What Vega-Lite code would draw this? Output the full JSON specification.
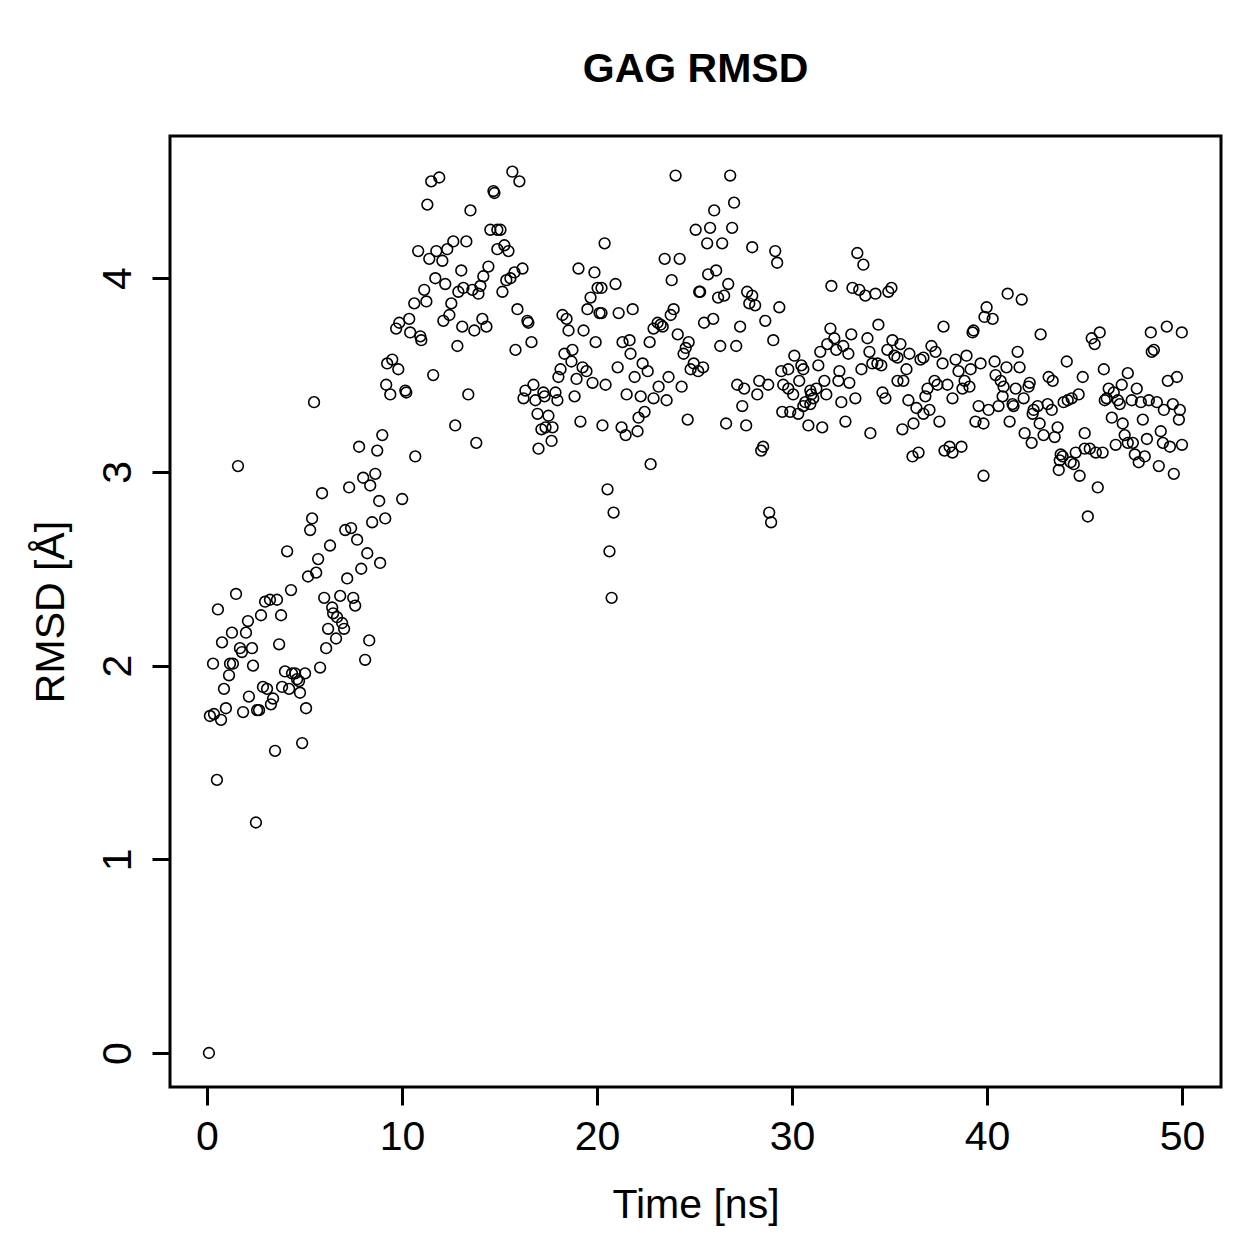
{
"$schema": "https://vega.github.io/schema/vega-lite/v6.json",
"width": 1051,
"height": 951,
"autosize": {"type": "none"},
"padding": {"left": 170, "top": 136, "right": 38, "bottom": 172},
"background": "white",
"title": {"text": "GAG RMSD", "font": "Liberation Sans", "fontSize": 41, "fontWeight": "bold", "color": "black", "anchor": "middle", "frame": "group", "baseline": "alphabetic", "offset": 13},
"config": {
  "view": {"stroke": "black", "strokeWidth": 3},
  "axis": {"domain": false, "grid": false, "tickColor": "black", "tickWidth": 3, "tickSize": 18, "labelFont": "Liberation Sans", "labelFontSize": 41, "labelColor": "black", "titleFont": "Liberation Sans", "titleFontSize": 41, "titleFontWeight": "normal", "titleColor": "black", "labelBaseline": "alphabetic", "titleBaseline": "alphabetic"}
},
"data": {"values": [
{"time":0.10,"rmsd":0.00},{"time":2.51,"rmsd":1.19},{"time":5.90,"rmsd":2.89},{"time":7.29,"rmsd":2.92},{"time":8.01,"rmsd":2.97},{"time":8.63,"rmsd":2.99},{"time":8.37,"rmsd":2.93},{"time":8.83,"rmsd":2.85},{"time":10.01,"rmsd":2.86},{"time":9.14,"rmsd":2.76},
{"time":8.47,"rmsd":2.74},{"time":5.39,"rmsd":2.76},{"time":5.29,"rmsd":2.70},{"time":7.09,"rmsd":2.70},{"time":7.39,"rmsd":2.71},{"time":7.70,"rmsd":2.65},{"time":6.31,"rmsd":2.62},{"time":4.11,"rmsd":2.59},{"time":8.22,"rmsd":2.58},{"time":8.88,"rmsd":2.53},
{"time":5.70,"rmsd":2.55},{"time":7.91,"rmsd":2.50},{"time":5.60,"rmsd":2.48},{"time":5.18,"rmsd":2.46},{"time":7.19,"rmsd":2.45},{"time":1.49,"rmsd":2.37},{"time":4.31,"rmsd":2.39},{"time":6.01,"rmsd":2.35},{"time":6.83,"rmsd":2.36},{"time":7.50,"rmsd":2.35},
{"time":7.60,"rmsd":2.31},{"time":0.56,"rmsd":2.29},{"time":2.98,"rmsd":2.33},{"time":3.23,"rmsd":2.34},{"time":3.59,"rmsd":2.34},{"time":2.77,"rmsd":2.26},{"time":3.80,"rmsd":2.26},{"time":6.42,"rmsd":2.30},{"time":6.47,"rmsd":2.27},{"time":6.67,"rmsd":2.25},
{"time":6.93,"rmsd":2.22},{"time":7.03,"rmsd":2.19},{"time":6.21,"rmsd":2.19},{"time":6.62,"rmsd":2.14},{"time":2.10,"rmsd":2.23},{"time":2.00,"rmsd":2.17},{"time":1.28,"rmsd":2.17},{"time":0.77,"rmsd":2.12},{"time":1.69,"rmsd":2.09},{"time":1.79,"rmsd":2.07},
{"time":2.31,"rmsd":2.09},{"time":3.70,"rmsd":2.11},{"time":6.11,"rmsd":2.09},{"time":8.32,"rmsd":2.13},{"time":8.11,"rmsd":2.03},{"time":0.31,"rmsd":2.01},{"time":1.18,"rmsd":2.01},{"time":1.33,"rmsd":2.01},{"time":2.36,"rmsd":2.00},{"time":1.13,"rmsd":1.95},
{"time":0.87,"rmsd":1.88},{"time":4.00,"rmsd":1.97},{"time":4.36,"rmsd":1.96},{"time":4.52,"rmsd":1.96},{"time":5.03,"rmsd":1.96},{"time":4.62,"rmsd":1.93},{"time":4.72,"rmsd":1.92},{"time":5.80,"rmsd":1.99},{"time":2.87,"rmsd":1.89},{"time":3.08,"rmsd":1.88},
{"time":3.85,"rmsd":1.89},{"time":4.21,"rmsd":1.88},{"time":4.77,"rmsd":1.86},{"time":2.15,"rmsd":1.84},{"time":3.39,"rmsd":1.83},{"time":3.28,"rmsd":1.80},{"time":0.97,"rmsd":1.78},{"time":1.85,"rmsd":1.76},{"time":2.57,"rmsd":1.77},{"time":2.67,"rmsd":1.77},
{"time":5.08,"rmsd":1.78},{"time":0.15,"rmsd":1.74},{"time":0.36,"rmsd":1.75},{"time":0.72,"rmsd":1.72},{"time":3.49,"rmsd":1.56},{"time":4.88,"rmsd":1.60},{"time":0.51,"rmsd":1.41},{"time":10.83,"rmsd":4.14},{"time":10.63,"rmsd":3.87},{"time":10.37,"rmsd":3.79},
{"time":9.86,"rmsd":3.77},{"time":9.70,"rmsd":3.74},{"time":10.42,"rmsd":3.72},{"time":10.94,"rmsd":3.70},{"time":10.99,"rmsd":3.68},{"time":9.50,"rmsd":3.58},{"time":9.24,"rmsd":3.56},{"time":9.81,"rmsd":3.53},{"time":9.19,"rmsd":3.45},{"time":9.40,"rmsd":3.40},
{"time":10.17,"rmsd":3.42},{"time":10.22,"rmsd":3.41},{"time":5.49,"rmsd":3.36},{"time":8.99,"rmsd":3.19},{"time":7.80,"rmsd":3.13},{"time":8.73,"rmsd":3.11},{"time":10.68,"rmsd":3.08},{"time":1.59,"rmsd":3.03},{"time":11.50,"rmsd":4.50},{"time":11.91,"rmsd":4.52},
{"time":15.66,"rmsd":4.55},{"time":16.02,"rmsd":4.50},{"time":11.30,"rmsd":4.38},{"time":13.51,"rmsd":4.35},{"time":14.69,"rmsd":4.45},{"time":14.74,"rmsd":4.44},{"time":14.53,"rmsd":4.25},{"time":14.89,"rmsd":4.25},{"time":15.05,"rmsd":4.25},{"time":12.63,"rmsd":4.19},
{"time":13.30,"rmsd":4.19},{"time":11.76,"rmsd":4.14},{"time":12.32,"rmsd":4.15},{"time":11.40,"rmsd":4.10},{"time":12.07,"rmsd":4.09},{"time":15.25,"rmsd":4.17},{"time":14.89,"rmsd":4.15},{"time":15.46,"rmsd":4.14},{"time":14.43,"rmsd":4.06},{"time":16.18,"rmsd":4.05},
{"time":15.77,"rmsd":4.03},{"time":14.17,"rmsd":4.01},{"time":15.56,"rmsd":4.00},{"time":15.35,"rmsd":3.99},{"time":13.04,"rmsd":4.04},{"time":11.71,"rmsd":4.00},{"time":12.22,"rmsd":3.97},{"time":14.02,"rmsd":3.96},{"time":13.15,"rmsd":3.95},{"time":13.61,"rmsd":3.94},
{"time":12.89,"rmsd":3.93},{"time":13.92,"rmsd":3.92},{"time":11.14,"rmsd":3.94},{"time":15.15,"rmsd":3.93},{"time":11.25,"rmsd":3.88},{"time":12.53,"rmsd":3.87},{"time":15.92,"rmsd":3.84},{"time":12.43,"rmsd":3.81},{"time":12.12,"rmsd":3.78},{"time":14.12,"rmsd":3.79},
{"time":14.33,"rmsd":3.75},{"time":13.09,"rmsd":3.75},{"time":13.71,"rmsd":3.73},{"time":16.43,"rmsd":3.78},{"time":16.48,"rmsd":3.77},{"time":12.84,"rmsd":3.65},{"time":15.82,"rmsd":3.63},{"time":16.64,"rmsd":3.67},{"time":11.60,"rmsd":3.50},{"time":13.40,"rmsd":3.40},
{"time":12.73,"rmsd":3.24},{"time":13.81,"rmsd":3.15},{"time":19.05,"rmsd":4.05},{"time":19.87,"rmsd":4.03},{"time":20.03,"rmsd":3.95},{"time":19.67,"rmsd":3.90},{"time":19.51,"rmsd":3.84},{"time":20.13,"rmsd":3.82},{"time":18.23,"rmsd":3.81},{"time":18.44,"rmsd":3.79},
{"time":18.54,"rmsd":3.73},{"time":19.31,"rmsd":3.73},{"time":19.93,"rmsd":3.67},{"time":18.33,"rmsd":3.61},{"time":18.74,"rmsd":3.63},{"time":18.69,"rmsd":3.57},{"time":18.13,"rmsd":3.53},{"time":18.02,"rmsd":3.49},{"time":19.26,"rmsd":3.54},{"time":19.46,"rmsd":3.52},
{"time":18.95,"rmsd":3.48},{"time":19.77,"rmsd":3.46},{"time":16.74,"rmsd":3.45},{"time":16.33,"rmsd":3.42},{"time":16.23,"rmsd":3.38},{"time":16.84,"rmsd":3.37},{"time":17.25,"rmsd":3.41},{"time":17.31,"rmsd":3.39},{"time":17.87,"rmsd":3.41},{"time":17.97,"rmsd":3.37},
{"time":18.85,"rmsd":3.39},{"time":16.95,"rmsd":3.30},{"time":17.51,"rmsd":3.29},{"time":17.15,"rmsd":3.22},{"time":17.72,"rmsd":3.23},{"time":17.36,"rmsd":3.23},{"time":17.67,"rmsd":3.16},{"time":17.00,"rmsd":3.12},{"time":19.15,"rmsd":3.26},{"time":24.03,"rmsd":4.53},
{"time":26.83,"rmsd":4.53},{"time":27.03,"rmsd":4.39},{"time":26.01,"rmsd":4.35},{"time":25.06,"rmsd":4.25},{"time":25.80,"rmsd":4.26},{"time":26.93,"rmsd":4.26},{"time":25.65,"rmsd":4.18},{"time":26.42,"rmsd":4.18},{"time":27.96,"rmsd":4.16},{"time":29.14,"rmsd":4.14},
{"time":29.24,"rmsd":4.08},{"time":20.39,"rmsd":4.18},{"time":23.47,"rmsd":4.10},{"time":24.24,"rmsd":4.10},{"time":23.83,"rmsd":3.99},{"time":25.70,"rmsd":4.02},{"time":26.11,"rmsd":4.04},{"time":26.73,"rmsd":3.97},{"time":25.24,"rmsd":3.93},{"time":25.29,"rmsd":3.93},
{"time":26.21,"rmsd":3.90},{"time":26.52,"rmsd":3.91},{"time":27.70,"rmsd":3.93},{"time":27.96,"rmsd":3.91},{"time":27.81,"rmsd":3.87},{"time":28.11,"rmsd":3.86},{"time":29.35,"rmsd":3.85},{"time":28.63,"rmsd":3.78},{"time":27.34,"rmsd":3.75},{"time":25.96,"rmsd":3.79},
{"time":25.49,"rmsd":3.77},{"time":20.95,"rmsd":3.97},{"time":20.23,"rmsd":3.95},{"time":21.11,"rmsd":3.82},{"time":21.83,"rmsd":3.84},{"time":20.23,"rmsd":3.82},{"time":23.93,"rmsd":3.84},{"time":23.78,"rmsd":3.81},{"time":23.11,"rmsd":3.77},{"time":23.37,"rmsd":3.75},
{"time":22.90,"rmsd":3.74},{"time":23.26,"rmsd":3.76},{"time":24.14,"rmsd":3.71},{"time":26.32,"rmsd":3.65},{"time":27.14,"rmsd":3.65},{"time":29.04,"rmsd":3.68},{"time":21.31,"rmsd":3.67},{"time":21.67,"rmsd":3.68},{"time":22.70,"rmsd":3.67},{"time":24.70,"rmsd":3.67},
{"time":24.55,"rmsd":3.64},{"time":24.44,"rmsd":3.61},{"time":21.72,"rmsd":3.61},{"time":22.34,"rmsd":3.56},{"time":22.60,"rmsd":3.52},{"time":21.06,"rmsd":3.54},{"time":21.93,"rmsd":3.49},{"time":24.96,"rmsd":3.56},{"time":25.44,"rmsd":3.54},{"time":24.80,"rmsd":3.53},
{"time":25.19,"rmsd":3.52},{"time":20.44,"rmsd":3.45},{"time":21.52,"rmsd":3.40},{"time":22.24,"rmsd":3.39},{"time":22.90,"rmsd":3.38},{"time":23.16,"rmsd":3.44},{"time":23.67,"rmsd":3.49},{"time":23.57,"rmsd":3.37},{"time":24.34,"rmsd":3.44},{"time":22.44,"rmsd":3.31},
{"time":22.13,"rmsd":3.28},{"time":24.65,"rmsd":3.27},{"time":21.26,"rmsd":3.23},{"time":21.47,"rmsd":3.19},{"time":22.08,"rmsd":3.21},{"time":20.28,"rmsd":3.24},{"time":27.19,"rmsd":3.45},{"time":27.55,"rmsd":3.43},{"time":28.22,"rmsd":3.40},{"time":28.32,"rmsd":3.47},
{"time":28.78,"rmsd":3.45},{"time":29.45,"rmsd":3.52},{"time":29.81,"rmsd":3.53},{"time":30.12,"rmsd":3.60},{"time":29.55,"rmsd":3.45},{"time":29.81,"rmsd":3.43},{"time":30.06,"rmsd":3.40},{"time":30.37,"rmsd":3.47},{"time":27.45,"rmsd":3.34},{"time":26.62,"rmsd":3.25},
{"time":27.65,"rmsd":3.24},{"time":29.50,"rmsd":3.31},{"time":29.91,"rmsd":3.31},{"time":30.32,"rmsd":3.30},{"time":28.52,"rmsd":3.13},{"time":28.42,"rmsd":3.11},{"time":22.75,"rmsd":3.04},{"time":20.54,"rmsd":2.91},{"time":20.85,"rmsd":2.79},{"time":28.83,"rmsd":2.79},
{"time":28.93,"rmsd":2.74},{"time":20.64,"rmsd":2.59},{"time":20.75,"rmsd":2.35},{"time":33.35,"rmsd":4.13},{"time":33.66,"rmsd":4.07},{"time":32.02,"rmsd":3.96},{"time":33.10,"rmsd":3.95},{"time":33.45,"rmsd":3.94},{"time":33.76,"rmsd":3.91},{"time":34.28,"rmsd":3.92},
{"time":34.94,"rmsd":3.93},{"time":35.10,"rmsd":3.95},{"time":39.98,"rmsd":3.85},{"time":39.87,"rmsd":3.80},{"time":31.97,"rmsd":3.74},{"time":34.43,"rmsd":3.76},{"time":37.77,"rmsd":3.75},{"time":39.26,"rmsd":3.72},{"time":39.31,"rmsd":3.73},{"time":32.17,"rmsd":3.69},
{"time":33.04,"rmsd":3.71},{"time":33.87,"rmsd":3.69},{"time":31.81,"rmsd":3.66},{"time":32.27,"rmsd":3.63},{"time":32.63,"rmsd":3.65},{"time":32.89,"rmsd":3.61},{"time":31.45,"rmsd":3.62},{"time":31.35,"rmsd":3.55},{"time":30.48,"rmsd":3.55},{"time":30.58,"rmsd":3.53},
{"time":33.97,"rmsd":3.62},{"time":34.12,"rmsd":3.56},{"time":34.38,"rmsd":3.56},{"time":34.58,"rmsd":3.55},{"time":33.56,"rmsd":3.53},{"time":34.89,"rmsd":3.63},{"time":35.15,"rmsd":3.68},{"time":35.56,"rmsd":3.66},{"time":35.25,"rmsd":3.60},{"time":35.41,"rmsd":3.59},
{"time":36.02,"rmsd":3.61},{"time":36.59,"rmsd":3.58},{"time":36.74,"rmsd":3.59},{"time":37.15,"rmsd":3.65},{"time":37.36,"rmsd":3.62},{"time":37.72,"rmsd":3.56},{"time":35.87,"rmsd":3.53},{"time":35.41,"rmsd":3.47},{"time":35.71,"rmsd":3.47},{"time":32.43,"rmsd":3.52},
{"time":32.94,"rmsd":3.46},{"time":32.38,"rmsd":3.47},{"time":31.66,"rmsd":3.47},{"time":30.94,"rmsd":3.42},{"time":31.25,"rmsd":3.43},{"time":30.99,"rmsd":3.40},{"time":31.09,"rmsd":3.38},{"time":31.76,"rmsd":3.40},{"time":30.68,"rmsd":3.36},{"time":30.58,"rmsd":3.34},
{"time":30.94,"rmsd":3.35},{"time":32.53,"rmsd":3.36},{"time":33.25,"rmsd":3.38},{"time":34.64,"rmsd":3.41},{"time":34.79,"rmsd":3.38},{"time":35.97,"rmsd":3.37},{"time":36.95,"rmsd":3.43},{"time":36.84,"rmsd":3.39},{"time":37.31,"rmsd":3.47},{"time":37.46,"rmsd":3.45},
{"time":37.97,"rmsd":3.45},{"time":38.39,"rmsd":3.58},{"time":38.54,"rmsd":3.52},{"time":38.95,"rmsd":3.60},{"time":39.16,"rmsd":3.53},{"time":39.67,"rmsd":3.56},{"time":38.85,"rmsd":3.47},{"time":38.74,"rmsd":3.43},{"time":39.10,"rmsd":3.44},{"time":38.23,"rmsd":3.38},
{"time":36.38,"rmsd":3.33},{"time":36.74,"rmsd":3.30},{"time":37.05,"rmsd":3.32},{"time":37.56,"rmsd":3.26},{"time":36.23,"rmsd":3.25},{"time":35.66,"rmsd":3.22},{"time":39.57,"rmsd":3.34},{"time":39.41,"rmsd":3.26},{"time":39.82,"rmsd":3.25},{"time":40.08,"rmsd":3.32},
{"time":30.84,"rmsd":3.24},{"time":31.55,"rmsd":3.23},{"time":32.74,"rmsd":3.26},{"time":34.02,"rmsd":3.20},{"time":36.18,"rmsd":3.08},{"time":36.49,"rmsd":3.10},{"time":37.82,"rmsd":3.11},{"time":38.08,"rmsd":3.13},{"time":38.23,"rmsd":3.10},{"time":38.69,"rmsd":3.13},
{"time":39.82,"rmsd":2.98},{"time":41.06,"rmsd":3.92},{"time":41.78,"rmsd":3.89},{"time":40.29,"rmsd":3.79},{"time":42.75,"rmsd":3.71},{"time":45.37,"rmsd":3.69},{"time":45.52,"rmsd":3.66},{"time":45.78,"rmsd":3.72},{"time":48.40,"rmsd":3.72},{"time":49.22,"rmsd":3.75},
{"time":49.99,"rmsd":3.72},{"time":48.56,"rmsd":3.63},{"time":48.45,"rmsd":3.62},{"time":41.57,"rmsd":3.62},{"time":40.39,"rmsd":3.57},{"time":41.00,"rmsd":3.54},{"time":41.67,"rmsd":3.54},{"time":44.09,"rmsd":3.57},{"time":45.99,"rmsd":3.53},{"time":47.22,"rmsd":3.51},
{"time":40.44,"rmsd":3.50},{"time":40.70,"rmsd":3.47},{"time":40.85,"rmsd":3.44},{"time":41.47,"rmsd":3.43},{"time":42.19,"rmsd":3.46},{"time":42.13,"rmsd":3.44},{"time":43.16,"rmsd":3.49},{"time":43.37,"rmsd":3.47},{"time":44.91,"rmsd":3.49},{"time":44.70,"rmsd":3.40},
{"time":46.91,"rmsd":3.45},{"time":47.68,"rmsd":3.43},{"time":49.74,"rmsd":3.49},{"time":49.27,"rmsd":3.47},{"time":46.24,"rmsd":3.43},{"time":46.50,"rmsd":3.41},{"time":40.80,"rmsd":3.39},{"time":41.88,"rmsd":3.38},{"time":41.31,"rmsd":3.35},{"time":41.36,"rmsd":3.34},
{"time":40.59,"rmsd":3.34},{"time":42.60,"rmsd":3.34},{"time":42.39,"rmsd":3.32},{"time":42.34,"rmsd":3.30},{"time":43.11,"rmsd":3.35},{"time":43.32,"rmsd":3.32},{"time":43.93,"rmsd":3.36},{"time":44.14,"rmsd":3.37},{"time":44.34,"rmsd":3.38},{"time":46.04,"rmsd":3.37},
{"time":46.14,"rmsd":3.38},{"time":46.71,"rmsd":3.37},{"time":46.81,"rmsd":3.35},{"time":47.42,"rmsd":3.37},{"time":47.89,"rmsd":3.36},{"time":48.30,"rmsd":3.37},{"time":48.71,"rmsd":3.36},{"time":49.07,"rmsd":3.32},{"time":49.53,"rmsd":3.35},{"time":49.89,"rmsd":3.32},
{"time":49.84,"rmsd":3.27},{"time":47.99,"rmsd":3.27},{"time":46.40,"rmsd":3.28},{"time":46.96,"rmsd":3.25},{"time":41.16,"rmsd":3.26},{"time":42.70,"rmsd":3.25},{"time":43.62,"rmsd":3.23},{"time":41.93,"rmsd":3.20},{"time":42.29,"rmsd":3.15},{"time":42.90,"rmsd":3.19},
{"time":43.47,"rmsd":3.18},{"time":45.01,"rmsd":3.20},{"time":47.06,"rmsd":3.19},{"time":47.22,"rmsd":3.15},{"time":47.48,"rmsd":3.15},{"time":48.20,"rmsd":3.17},{"time":48.91,"rmsd":3.21},{"time":49.02,"rmsd":3.15},{"time":49.38,"rmsd":3.13},{"time":50.00,"rmsd":3.14},
{"time":46.60,"rmsd":3.14},{"time":44.55,"rmsd":3.10},{"time":45.01,"rmsd":3.12},{"time":45.27,"rmsd":3.12},{"time":45.58,"rmsd":3.10},{"time":45.93,"rmsd":3.10},{"time":43.78,"rmsd":3.09},{"time":43.88,"rmsd":3.08},{"time":43.73,"rmsd":3.06},{"time":44.29,"rmsd":3.05},
{"time":44.45,"rmsd":3.04},{"time":43.68,"rmsd":3.01},{"time":44.75,"rmsd":2.98},{"time":47.58,"rmsd":3.09},{"time":48.09,"rmsd":3.08},{"time":47.78,"rmsd":3.05},{"time":48.81,"rmsd":3.03},{"time":49.58,"rmsd":2.99},{"time":45.68,"rmsd":2.92},{"time":45.17,"rmsd":2.77}
]},
"mark": {"type": "point", "shape": "circle", "filled": false, "stroke": "black", "strokeWidth": 1.6, "size": 115, "opacity": 1},
"encoding": {
  "x": {"field": "time", "type": "quantitative", "scale": {"domain": [-1.897, 52.0], "nice": false, "zero": false}, "axis": {"values": [0, 10, 20, 30, 40, 50], "title": "Time [ns]", "labelPadding": 44, "labelAngle": 0, "titleX": 525.5, "titleY": 130, "titleAnchor": "middle", "titleAlign": "center"}},
  "y": {"field": "rmsd", "type": "quantitative", "scale": {"domain": [-0.1755, 4.7342], "nice": false, "zero": false}, "axis": {"values": [0, 1, 2, 3, 4], "title": "RMSD [Å]", "labelAngle": -90, "labelAlign": "center", "labelPadding": 22, "titleAngle": -90, "titleX": -107, "titleY": 475.5, "titleAlign": "center"}}
}
}
